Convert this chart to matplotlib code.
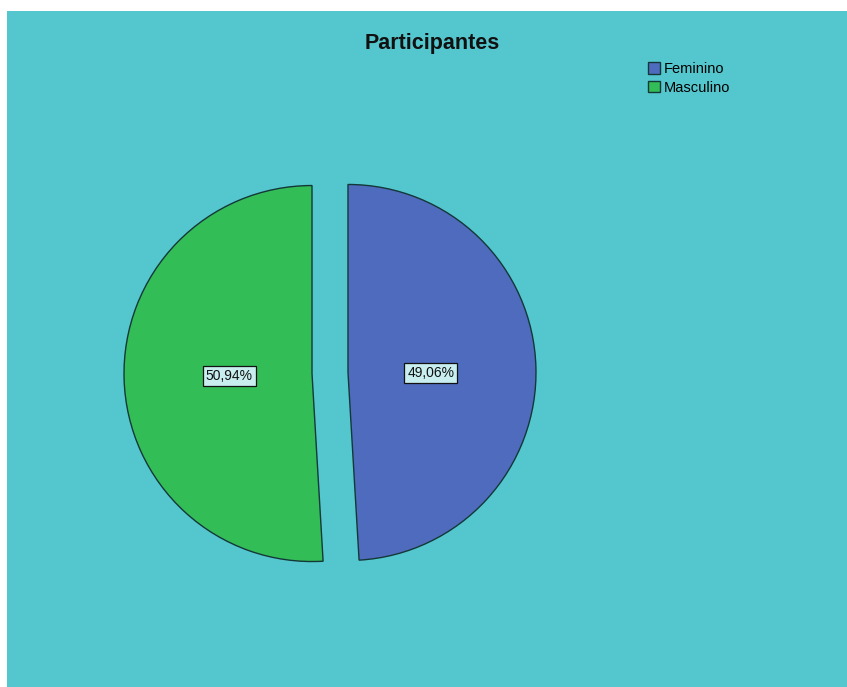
import matplotlib
matplotlib.use("Agg")
import matplotlib.pyplot as plt
from matplotlib.patches import Rectangle, Patch
import numpy as np

categories = ["Feminino", "Masculino"]
values = [49.06, 50.94]
colors = ["#4E6BBD", "#33BD57"]
title = "Participantes"

W, H = 847, 687
fig = plt.figure(figsize=(W / 100, H / 100), dpi=100)
fig.patch.set_facecolor("white")
fig.patches.append(Rectangle((7 / W, 0), 1 - 7 / W, 1 - 11 / H, transform=fig.transFigure,
                             facecolor="#54C7CE", edgecolor="none", zorder=-5))

ax = fig.add_axes([0, 0, 1, 1])
ax.set_zorder(2)
ax.patch.set_alpha(0)
cx, cy, r = 330, H - 373, 188

def fmt(p):
    return f"{p:.2f}%".replace(".", ",")

# explode is in data (pixel) units here
wedges, texts = ax.pie(values, startangle=90, counterclock=False, colors=colors,
                       explode=[18, 18], center=(cx, cy), radius=r, frame=True,
                       wedgeprops=dict(edgecolor="#143838", linewidth=1.0))
for w, v in zip(wedges, values):
    th = np.deg2rad((w.theta1 + w.theta2) / 2)
    x0, y0 = w.center
    ax.text(x0 + 0.44 * r * np.cos(th), y0 + 0.15 * r * np.sin(th) - 1.5, fmt(v),
            ha="center", va="center", fontsize=10, family="Liberation Sans", color="#111111",
            bbox=dict(boxstyle="square,pad=0.2", facecolor="#C8EEF0", edgecolor="#111111", linewidth=0.9))

ax.set_xlim(0, W)
ax.set_ylim(0, H)
ax.set_aspect("equal")
ax.set_axis_off()

fig.text(432 / W, 1 - 44 / H, title, ha="center", va="center", fontsize=15.5,
         fontweight="bold", family="Liberation Sans", color="#111111")

handles = [Patch(facecolor=c, edgecolor="#143838", linewidth=1.0) for c in colors]
fig.legend(handles, categories, loc="upper left", bbox_to_anchor=(648 / W, 1 - 62 / H),
           frameon=False, prop=dict(family="Liberation Sans", size=10.5),
           handlelength=0.85, handleheight=0.85, handletextpad=0.2, labelspacing=0.32,
           borderpad=0, borderaxespad=0)

fig.savefig("out.png", dpi=100)
